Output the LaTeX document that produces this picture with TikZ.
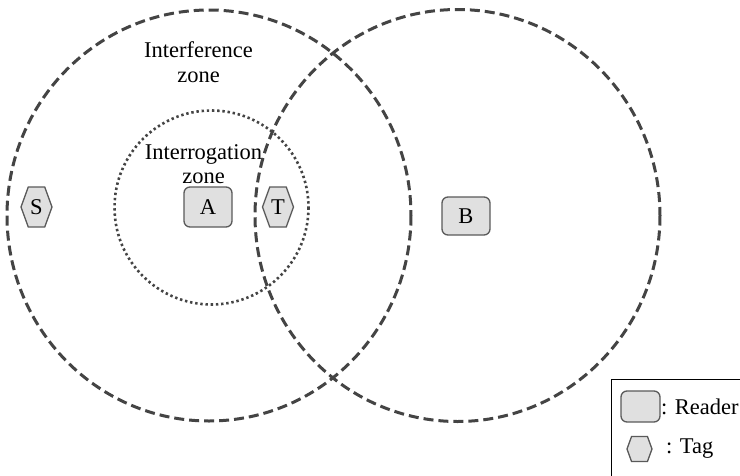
\documentclass[tikz,border=0pt]{standalone}
\usepackage{fontspec}
\setmainfont{Liberation Serif}
\usetikzlibrary{shapes.symbols}
\definecolor{zoneline}{HTML}{444444}
\definecolor{boxline}{HTML}{5A5A5A}
\definecolor{boxfill}{HTML}{E0E0E0}
\tikzset{
  interference/.style={draw=zoneline, line width=3pt, dash pattern=on 10pt off 5pt},
  interrogation/.style={draw=zoneline, line width=2.6pt, dash pattern=on 2.4pt off 2.8pt},
  reader/.style={draw=boxline, fill=boxfill, line width=1.3pt, rounded corners=6pt,
    minimum width=48pt, minimum height=40pt, inner sep=0pt, font=\fontsize{22.5}{24}\selectfont},
  tag/.style={draw=boxline, fill=boxfill, line width=1.3pt, signal, signal to=west and east,
    signal pointer angle=140, minimum width=31pt, minimum height=40pt, inner sep=0pt,
    font=\fontsize{22.5}{24}\selectfont},
  zonelabel/.style={align=center, font=\fontsize{22.5}{24.5}\selectfont},
  legendtext/.style={anchor=west, inner sep=0pt, font=\fontsize{22.5}{24}\selectfont}
}
\begin{document}
\begin{tikzpicture}[x=1pt, y=-1pt]
\useasboundingbox (0,0) rectangle (740,475);
\fill[white] (0,0) rectangle (740,475);

% coverage zones of the two readers
\draw[interference] (209,215.5) ellipse[x radius=202, y radius=205.5];
\draw[interference] (457.5,215.5) ellipse[x radius=202.5, y radius=206];
\draw[interrogation] (211.5,207.5) circle[radius=97];

\node[zonelabel] (intf) at (198.5,62) {Interference\\zone};
\node[zonelabel] (intr) at (203.5,164) {Interrogation\\zone};

% readers and tags
\node[reader] (A) at (208,207) {A};
\node[reader, minimum height=38pt] (B) at (466,216) {B};
\node[tag] (S) at (36.5,207) {S};
\node[tag] (T) at (278,207) {T};

% legend
\draw[black, line width=1pt] (611,476) -- (611,379) -- (741,379);
\node[reader, minimum width=39pt, minimum height=31pt] (legR) at (640.5,406.5) {};
\node[legendtext] (legRt) at (661,406.5) {: Reader};
\node[tag, minimum width=25pt, minimum height=25pt] (legT) at (639.5,449) {};
\node[legendtext] (legTt) at (666,449) {: Tag};
\end{tikzpicture}
\end{document}
